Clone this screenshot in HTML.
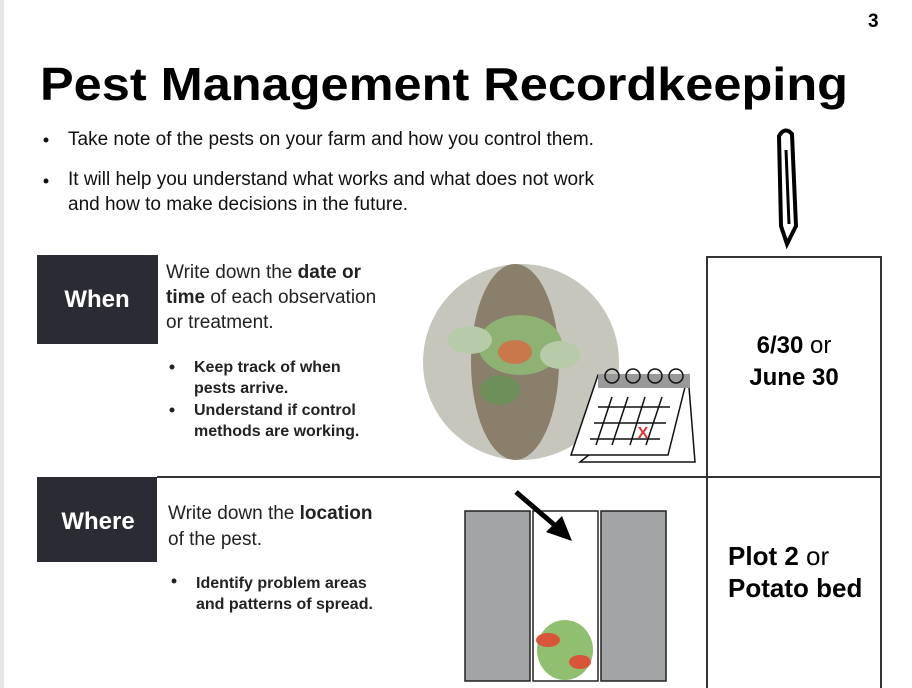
<!DOCTYPE html>
<html><head><meta charset="utf-8"><style>
html,body{margin:0;padding:0;background:#fff;}
svg{display:block;font-family:"Liberation Sans",sans-serif;}
</style></head><body>
<svg width="912" height="688" viewBox="0 0 912 688">
<rect x="0" y="0" width="4" height="688" fill="#e6e6e6"/>
<text x="868" y="27" font-size="19" font-weight="bold">3</text>
<text x="40" y="100" font-size="46" font-weight="bold" textLength="808" lengthAdjust="spacingAndGlyphs">Pest Management Recordkeeping</text>
<g font-size="19" fill="#111">
<circle cx="46" cy="140" r="2.5"/><text x="68" y="145">Take note of the pests on your farm and how you control them.</text>
<circle cx="46" cy="181" r="2.5"/><text x="68" y="185">It will help you understand what works and what does not work</text>
<text x="68" y="210">and how to make decisions in the future.</text>
</g>
<!-- pencil -->
<g stroke="#000" stroke-width="4" fill="none">
<path d="M779 136 Q785 126 792 134 L796 226 L787 244 L781 226 Z"/>
<line x1="786" y1="150" x2="789" y2="224" stroke-width="3"/>
</g>
<!-- table lines -->
<rect x="707" y="257" width="174" height="440" fill="none" stroke="#333" stroke-width="2"/>
<line x1="157" y1="477" x2="881" y2="477" stroke="#333" stroke-width="2"/>
<!-- When -->
<rect x="37" y="255" width="121" height="89" fill="#2b2c33"/>
<text x="97" y="307" font-size="24" font-weight="bold" fill="#fff" text-anchor="middle">When</text>
<g font-size="19" fill="#222">
<text x="166" y="278">Write down the <tspan font-weight="bold">date or</tspan></text>
<text x="166" y="303"><tspan font-weight="bold">time</tspan> of each observation</text>
<text x="166" y="328">or treatment.</text>
</g>
<g font-size="16" font-weight="bold" fill="#222">
<circle cx="172" cy="367" r="2.5"/><text x="194" y="372">Keep track of when</text>
<text x="194" y="393">pests arrive.</text>
<circle cx="172" cy="410" r="2.5"/><text x="194" y="415">Understand if control</text>
<text x="194" y="436">methods are working.</text>
</g>
<!-- photo circle -->
<circle cx="521" cy="362" r="98" fill="#c6c6bc"/>
<ellipse cx="515" cy="362" rx="44" ry="98" fill="#8a7f6a"/>
<ellipse cx="520" cy="345" rx="42" ry="30" fill="#8db274"/>
<ellipse cx="470" cy="340" rx="22" ry="14" fill="#b7cba8"/>
<ellipse cx="560" cy="355" rx="20" ry="14" fill="#b7cba8"/>
<ellipse cx="515" cy="352" rx="17" ry="12" fill="#c8784a"/>
<ellipse cx="500" cy="390" rx="20" ry="15" fill="#6e8e5a"/>
<!-- calendar -->
<g stroke="#111" stroke-width="1.5" fill="#fff">
<path d="M580 462 L695 462 L688 375 Z"/>
<path d="M571 455 L668 455 L688 375 L598 375 Z"/>
<rect x="598" y="374" width="92" height="14" fill="#999" stroke="none"/>
<circle cx="612" cy="376" r="7" fill="none"/><circle cx="633" cy="376" r="7" fill="none"/><circle cx="655" cy="376" r="7" fill="none"/><circle cx="676" cy="376" r="7" fill="none"/>
<path d="M598 407 L670 407 M594 423 L666 423 M590 439 L660 439 M612 397 L596 445 M628 397 L612 445 M645 397 L630 445 M662 397 L646 445" fill="none"/>
</g>
<text x="643" y="438" font-size="16" font-weight="bold" fill="#d33" text-anchor="middle">X</text>
<g font-size="24" text-anchor="middle">
<text x="794" y="353"><tspan font-weight="bold">6/30</tspan> or</text>
<text x="794" y="385" font-weight="bold">June 30</text>
</g>
<!-- Where -->
<rect x="37" y="477" width="120" height="85" fill="#2b2c33"/>
<text x="98" y="529" font-size="24" font-weight="bold" fill="#fff" text-anchor="middle">Where</text>
<g font-size="19" fill="#222">
<text x="168" y="519">Write down the <tspan font-weight="bold">location</tspan></text>
<text x="168" y="545">of the pest.</text>
</g>
<g font-size="16" font-weight="bold" fill="#222">
<circle cx="174" cy="581" r="2.5"/><text x="196" y="588">Identify problem areas</text>
<text x="196" y="609">and patterns of spread.</text>
</g>
<g stroke="#222" stroke-width="1.5">
<rect x="465" y="511" width="65" height="170" fill="#a3a4a6"/>
<rect x="533" y="511" width="65" height="170" fill="#fff"/>
<rect x="601" y="511" width="65" height="170" fill="#a3a4a6"/>
</g>
<ellipse cx="565" cy="650" rx="28" ry="30" fill="#8fbf6f"/>
<ellipse cx="548" cy="640" rx="12" ry="7" fill="#d9553a"/>
<ellipse cx="580" cy="662" rx="11" ry="7" fill="#d9553a"/>
<line x1="516" y1="492" x2="558" y2="528" stroke="#000" stroke-width="5"/>
<path d="M572 541 L546 532 L562 516 Z" fill="#000"/>
<g font-size="26" text-anchor="start">
<text x="728" y="565"><tspan font-weight="bold">Plot 2</tspan> or</text>
<text x="728" y="597" font-weight="bold">Potato bed</text>
</g>
</svg>
</body></html>
